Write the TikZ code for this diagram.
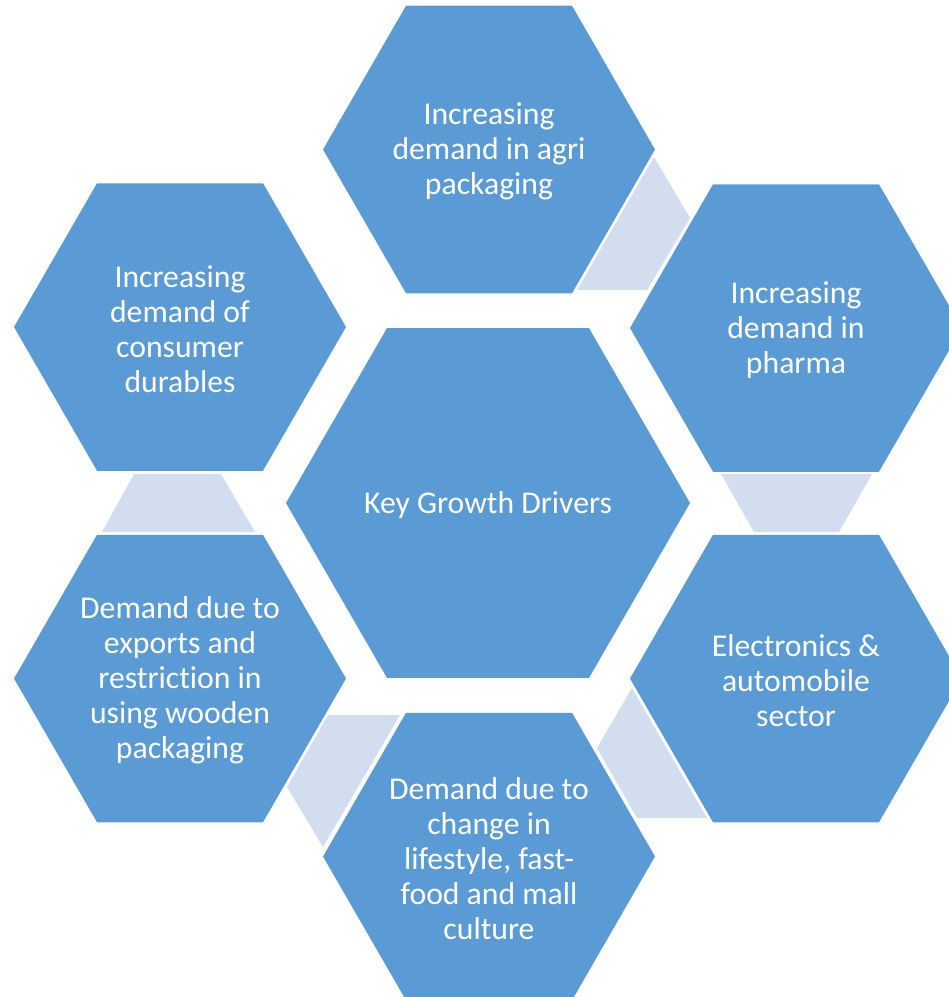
\documentclass[tikz,border=0pt]{standalone}
\usepackage{fontspec}
\setmainfont[Ligatures=NoCommon]{Carlito}
\definecolor{hexblue}{HTML}{5B9BD5}
\definecolor{linkblue}{HTML}{D2DEEF}
\tikzset{
  hexfill/.style={fill=hexblue},
  linkfill/.style={fill=linkblue},
  hexlabel/.style={text=white, align=center, font=\fontsize{31.7}{35}\selectfont, inner sep=0pt, yshift=-2pt}
}
% flat-topped hexagon: centre (#1,#2), circumradius #3
\newcommand{\hexshape}[3]{%
  \fill[hexfill] ({#1-#3},#2) -- ++({#3/2},{-0.866*#3}) -- ++(#3,0)
    -- ++({#3/2},{0.866*#3}) -- ++({-#3/2},{0.866*#3}) -- ++(-#3,0) -- cycle;}
\begin{document}
\begin{tikzpicture}[x=1pt,y=-1pt]
\useasboundingbox (0,0) rectangle (949,997);
\clip (0,0) rectangle (949,997);
% linking trapezoids
\fill[linkfill] (654,157) -- (690,218) -- (647,290) -- (577,290) -- cycle;
\fill[linkfill] (721,474) -- (872,474) -- (839,532) -- (754,532) -- cycle;
\fill[linkfill] (632,688) -- (707,818) -- (637,818) -- (597,748) -- cycle;
\fill[linkfill] (328,715) -- (400,715) -- (323,847) -- (287,787) -- cycle;
\fill[linkfill] (134,474) -- (221,474) -- (255,532) -- (102,532) -- cycle;
% hexagons
\hexshape{488}{503}{202}
\hexshape{489}{149.5}{166}
\hexshape{796}{328}{166}
\hexshape{796}{678.5}{166}
\hexshape{489}{856.5}{166}
\hexshape{180}{678.5}{166}
\hexshape{180}{327}{166}
% labels
\node[hexlabel] (hub) at (488,503) {Key Growth Drivers};
\node[hexlabel] (agri) at (489,149.5) {Increasing\\demand in agri\\packaging};
\node[hexlabel] (pharma) at (796,328) {Increasing\\demand in\\pharma};
\node[hexlabel] (auto) at (796,678.5) {Electronics \&\\automobile\\sector};
\node[hexlabel] (life) at (489,856.5) {Demand due to\\change in\\lifestyle, fast-\\food and mall\\culture};
\node[hexlabel] (wood) at (180,678.5) {Demand due to\\exports and\\restriction in\\using wooden\\packaging};
\node[hexlabel] (durables) at (180,327) {Increasing\\demand of\\consumer\\durables};
\end{tikzpicture}
\end{document}
